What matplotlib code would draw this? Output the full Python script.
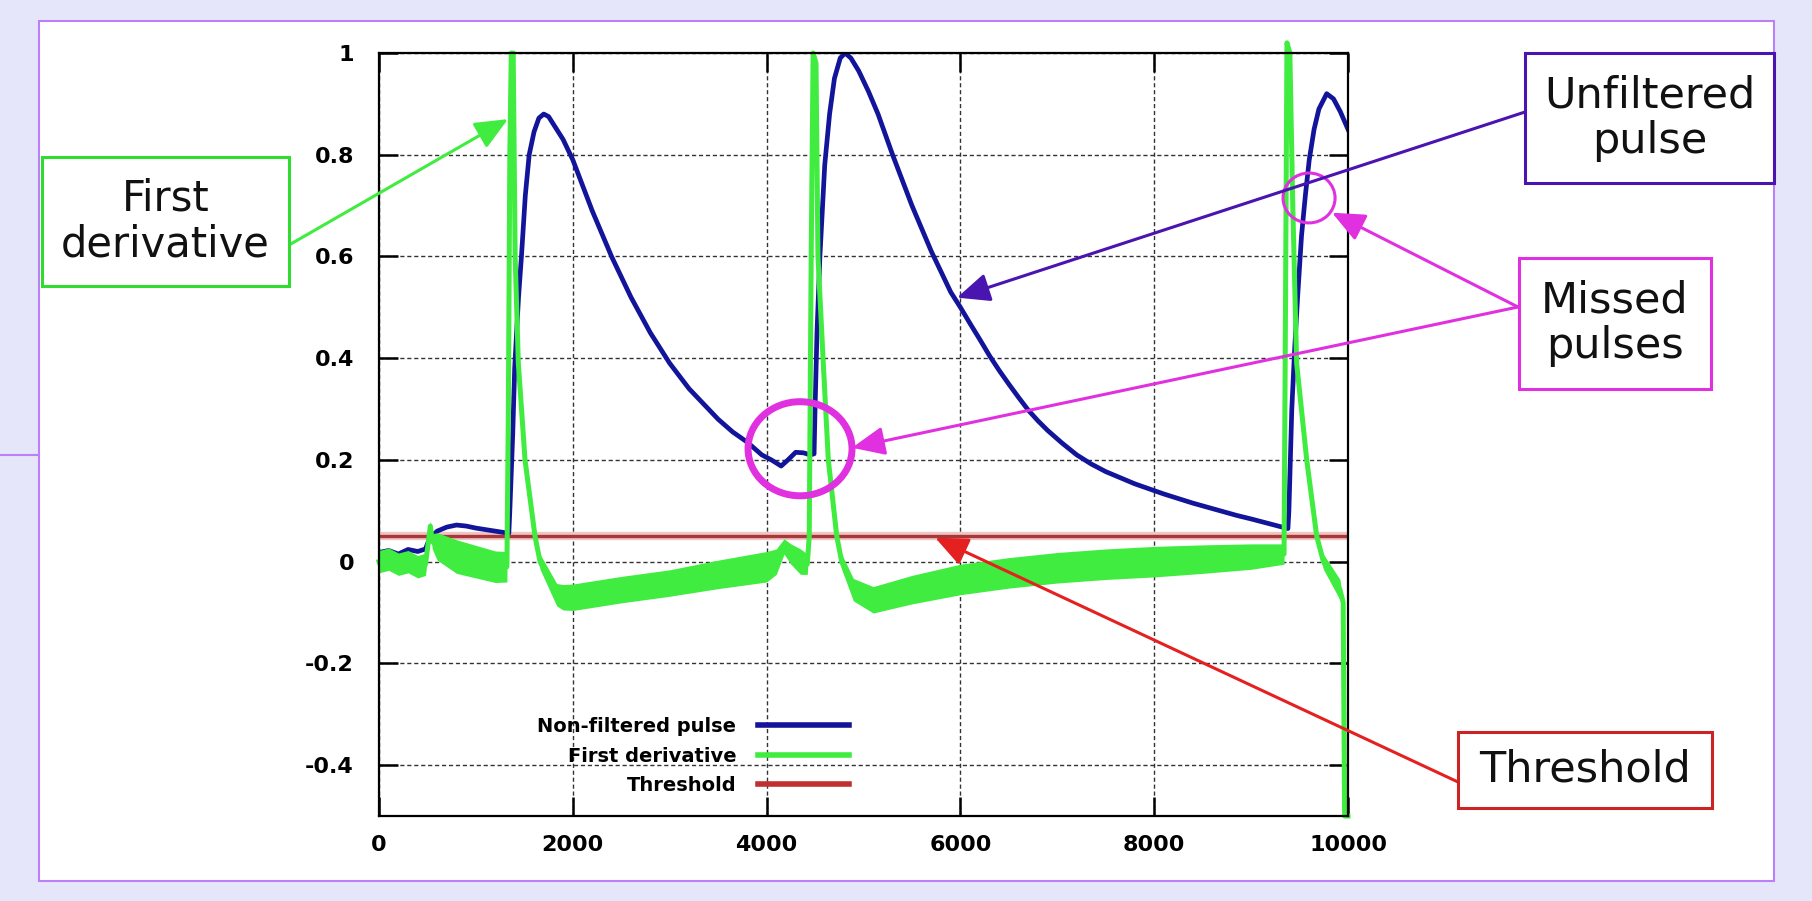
import numpy as np
import matplotlib.pyplot as plt
from matplotlib.patches import Rectangle, Ellipse
from matplotlib.lines import Line2D

# ---- data ----
blue_x = [0, 100, 200, 300, 400, 480, 520, 600, 700, 800, 900, 1000, 1100, 1200, 1300, 1340,
          1350, 1380, 1400, 1440, 1470, 1510, 1550, 1600, 1650, 1700, 1750, 1800, 1900, 2000,
          2100, 2200, 2300, 2400, 2500, 2600, 2700, 2800, 2900, 3000, 3100, 3200, 3350, 3500,
          3650, 3800, 3950, 4050, 4150, 4220, 4300, 4380, 4450, 4490, 4500, 4520, 4550, 4600,
          4650, 4700, 4760, 4810, 4870, 4950, 5050, 5150, 5300, 5400, 5500, 5600, 5700, 5800,
          5900, 6000, 6100, 6200, 6300, 6400, 6500, 6600, 6700, 6800, 6900, 7050, 7200, 7350,
          7500, 7650, 7800, 7950, 8100, 8250, 8400, 8550, 8700, 8850, 9000, 9100, 9200, 9300,
          9380, 9390, 9420, 9450, 9480, 9520, 9560, 9600, 9650, 9700, 9780, 9850, 9920, 10000]
blue_y = [0.018, 0.022, 0.015, 0.024, 0.02, 0.025, 0.045, 0.06, 0.068, 0.072, 0.07, 0.066,
          0.063, 0.06, 0.057, 0.056, 0.1, 0.25, 0.38, 0.52, 0.6, 0.72, 0.8, 0.845, 0.872, 0.88,
          0.875, 0.86, 0.83, 0.79, 0.74, 0.69, 0.645, 0.6, 0.56, 0.52, 0.485, 0.45, 0.42, 0.39,
          0.365, 0.34, 0.31, 0.28, 0.255, 0.235, 0.21, 0.2, 0.188, 0.2, 0.215, 0.214, 0.21,
          0.212, 0.3, 0.45, 0.6, 0.78, 0.88, 0.95, 0.99, 1.0, 0.99, 0.965, 0.925, 0.88, 0.8,
          0.75, 0.7, 0.655, 0.61, 0.57, 0.53, 0.5, 0.468, 0.437, 0.405, 0.376, 0.349, 0.323,
          0.298, 0.277, 0.258, 0.233, 0.21, 0.192, 0.177, 0.165, 0.153, 0.143, 0.133, 0.124,
          0.115, 0.107, 0.099, 0.091, 0.084, 0.079, 0.074, 0.069, 0.065, 0.1, 0.3, 0.42, 0.52,
          0.64, 0.72, 0.79, 0.85, 0.89, 0.92, 0.91, 0.885, 0.85]

green_x = [0, 100, 200, 300, 400, 480, 510, 530, 550, 600, 800, 1000, 1200, 1320, 1335, 1350,
           1365, 1385, 1405, 1438, 1507, 1610, 1662, 1834, 1900, 2000, 2500, 3000, 3500, 4000,
           4100, 4180, 4250, 4350, 4420, 4440, 4460, 4480, 4510, 4530, 4585, 4637, 4724, 4775,
           4895, 5100, 5500, 6000, 6500, 7000, 7500, 8000, 8500, 9000, 9340, 9355, 9370, 9400,
           9430, 9470, 9574, 9677, 9746, 9917, 9950, 9965, 10000]
green_y = [0.0, 0.005, -0.005, 0.0, -0.01, -0.005, 0.04, 0.07, 0.04, 0.03, 0.01, 0.0, -0.01,
           -0.01, 0.3, 0.8, 1.0, 1.0, 0.6, 0.39, 0.2, 0.05, 0.0, -0.065, -0.07, -0.07, -0.055,
           -0.042, -0.025, -0.01, 0.0, 0.03, 0.015, 0.0, -0.005, 0.05, 0.6, 1.0, 0.98, 0.6, 0.39,
           0.2, 0.05, 0.0, -0.055, -0.075, -0.055, -0.035, -0.022, -0.012, -0.005, 0.0, 0.005,
           0.01, 0.015, 0.5, 1.02, 1.0, 0.7, 0.39, 0.2, 0.05, 0.0, -0.055, -0.08, -0.5, -0.5]
green_band = [0.022, 0.022, 0.022, 0.022, 0.022, 0.022, 0.015, 0.01, 0.015, 0.027, 0.033, 0.032,
              0.031, 0.03, 0.0, 0.0, 0.0, 0.0, 0.0, 0.0, 0.005, 0.01, 0.015, 0.022, 0.025, 0.026,
              0.026, 0.026, 0.028, 0.03, 0.025, 0.015, 0.02, 0.025, 0.02, 0.0, 0.0, 0.0, 0.0, 0.0,
              0.0, 0.005, 0.01, 0.015, 0.022, 0.026, 0.028, 0.03, 0.03, 0.03, 0.03, 0.03, 0.028,
              0.025, 0.02, 0.0, 0.0, 0.0, 0.0, 0.0, 0.005, 0.01, 0.015, 0.02, 0.0, 0.0, 0.0]

threshold = 0.05

x_ticks = [0, 2000, 4000, 6000, 8000, 10000]
x_labels = ['0', '2000', '4000', '6000', '8000', '10000']
y_ticks = [-0.4, -0.2, 0, 0.2, 0.4, 0.6, 0.8, 1]
y_labels = ['-0.4', '-0.2', '0', '0.2', '0.4', '0.6', '0.8', '1']

series_names = ['Non-filtered pulse', 'First derivative', 'Threshold']

# ---- colours ----
BLUE = '#12149a'
GREEN = '#3fec3f'
RED = '#a83838'
C_GREEN_BOX = '#2fdc2f'
C_INDIGO = '#4a14b0'
C_MAGENTA = '#e030e0'
C_RED_BOX = '#cc2424'
C_FRAME = '#bb80f8'
BG = '#e6e6fa'

W, H = 1812, 901


def fx(px):
    return px / W


def fy(py):
    return 1 - py / H


fig = plt.figure(figsize=(W / 100, H / 100), dpi=100, facecolor=BG)

# white slide frame
fig.add_artist(Rectangle((fx(39), fy(881)), fx(1774) - fx(39), fy(21) - fy(881),
                         transform=fig.transFigure, facecolor='white', edgecolor=C_FRAME,
                         lw=1.5, zorder=-2))
fig.add_artist(Line2D([0, fx(39)], [fy(455), fy(455)], transform=fig.transFigure,
                      color=C_FRAME, lw=1.5, zorder=-1))

ax = fig.add_axes([fx(379), fy(816), fx(1348) - fx(379), fy(53) - fy(816)])
ax.set_facecolor('white')

ax.axhline(threshold, color='#efc4c4', lw=6, zorder=2)
ax.axhline(threshold, color=RED, lw=2.4, zorder=2.1)

ax.plot(blue_x, blue_y, color=BLUE, lw=3.4, zorder=3, solid_joinstyle='round')

g = np.array(green_y)
b = np.array(green_band)
ax.fill_between(green_x, g - b, g + b, color=GREEN, lw=0, zorder=4, clip_on=False)
ax.plot(green_x, green_y, color=GREEN, lw=3.6, zorder=4, clip_on=False,
        solid_joinstyle='round')

ax.set_xlim(0, 10000)
ax.set_ylim(-0.5, 1)
ax.set_xticks(x_ticks)
ax.set_xticklabels(x_labels)
ax.set_yticks(y_ticks)
ax.set_yticklabels(y_labels)
ax.tick_params(direction='in', length=14, width=1.8, top=True, right=True,
               labelsize=16, pad=14)
for lab in ax.get_xticklabels() + ax.get_yticklabels():
    lab.set_fontweight('bold')
ax.tick_params(axis='y', pad=18)
ax.grid(True, color='#333333', lw=1.0, linestyle=(0, (3, 2)))
for s in ax.spines.values():
    s.set_linewidth(1.6)
    s.set_zorder(6)

# legend: text left, line right
handles = [Line2D([], [], color=BLUE, lw=4),
           Line2D([], [], color=GREEN, lw=4),
           Line2D([], [], color='#c03030', lw=4)]
leg = ax.legend(handles, series_names, loc='center right', markerfirst=False, frameon=False,
                bbox_to_anchor=(fx(849), fy(756)), bbox_transform=fig.transFigure,
                prop={'weight': 'bold', 'size': 14}, handlelength=4.7, handletextpad=1.1,
                labelspacing=0.55, borderpad=0, borderaxespad=0)

# circles around the missed pulses
ax.add_patch(Ellipse((4345, 0.222), 1073, 0.185, fill=False, edgecolor=C_MAGENTA, lw=5,
                     zorder=7))
ax.add_patch(Ellipse((9598, 0.715), 537, 0.098, fill=False, edgecolor=C_MAGENTA, lw=2.2,
                     zorder=7))

# call-out boxes
boxes = [
    ('First\nderivative', 42, 157, 289, 286, C_GREEN_BOX, 30),
    ('Unfiltered\npulse', 1525, 53, 1774, 183, C_INDIGO, 31),
    ('Missed\npulses', 1519, 258, 1711, 389, C_MAGENTA, 31),
    ('Threshold', 1458, 732, 1712, 808, C_RED_BOX, 31),
]
for label, x0, y0, x1, y1, col, fs in boxes:
    fig.add_artist(Rectangle((fx(x0), fy(y1)), fx(x1) - fx(x0), fy(y0) - fy(y1),
                             transform=fig.transFigure, facecolor='white', edgecolor=col,
                             lw=2.2, zorder=8))
    fig.text(fx((x0 + x1) / 2), fy((y0 + y1) / 2), label, ha='center', va='center',
             multialignment='center', fontsize=fs, color='#111111', zorder=9,
             linespacing=1.1)

# arrows: (tip in data, start in figure pixels, colour)
arrows = [
    ((1331, 0.870), (289, 245), GREEN),
    ((5965, 0.519), (1525, 112), C_INDIGO),
    ((9835, 0.686), (1518, 307), C_MAGENTA),
    ((4881, 0.224), (1518, 307), C_MAGENTA),
    ((5740, 0.047), (1458, 782), '#e42020'),
]
for tip, start, col in arrows:
    ax.annotate('', xy=tip, xycoords='data', xytext=(fx(start[0]), fy(start[1])),
                textcoords='figure fraction', annotation_clip=False,
                arrowprops=dict(arrowstyle='-|>,head_length=0.8,head_width=0.35',
                                color=col, lw=2.2, mutation_scale=25,
                                shrinkA=0, shrinkB=0), zorder=7)

fig.savefig('out.png', dpi=100, facecolor=BG)
